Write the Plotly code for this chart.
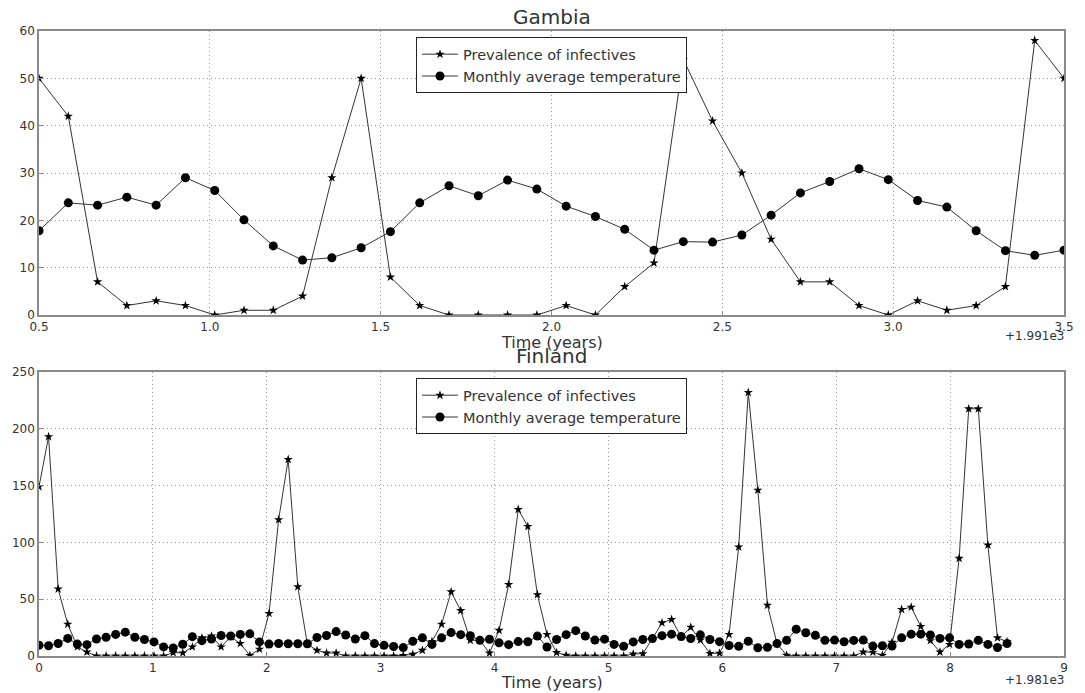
import numpy as np
import plotly.graph_objects as go
from plotly.subplots import make_subplots

# ---------------- data ----------------
gambia_start, gambia_end, gambia_n = 1991.5, 1994.5, 36
gambia_prevalence = [50, 42, 7, 2, 3, 2, 0, 1, 1, 4, 29, 50, 8, 2, 0, 0, 0, 0,
                     2, 0, 6, 11, 54, 41, 30, 16, 7, 7, 2, 0, 3, 1, 2, 6, 58, 50]
gambia_temperature = [17.8, 23.7, 23.2, 24.9, 23.2, 29.0, 26.3, 20.1, 14.6, 11.6, 12.1, 14.2,
                      17.6, 23.7, 27.3, 25.2, 28.5, 26.6, 23.0, 20.8, 18.1, 13.7, 15.5, 15.4,
                      16.9, 21.1, 25.8, 28.2, 30.9, 28.6, 24.2, 22.8, 17.8, 13.6, 12.6, 13.7]

finland_start, finland_end, finland_n = 1981.0, 1989.5, 102
finland_prevalence = [149, 193, 59, 28, 8, 3.5, 0, 0, 0, 0, 0, 0, 0, 0,
                      3, 2.7, 8, 16, 17.5, 8, 17, 11, 0.5, 6, 37.5, 120, 173, 61, 10.5, 5,
                      2.6, 2.6, 0, 0, 0, 0, 0, 0, 0.5, 1.5, 5, 12.8, 28, 56.5, 40, 13.8,
                      13.8, 2.6, 22.6, 63, 129, 114, 54, 19, 3, 0.6, 0, 0, 0, 0, 0, 0,
                      1.8, 2, 15.3, 29.2, 32.2, 17, 25.3, 14, 2.3, 2.5, 19, 96, 232, 146,
                      44.7, 10.9, 0.6, 0, 0, 0, 0, 0, 0, 0, 3.5, 3.3, 0.6, 12, 41, 43,
                      26, 13.5, 3.5, 10.2, 86, 217.6, 217.6, 97.6, 16, 12.6]
finland_temperature = [9.5, 9, 11, 15.5, 10.5, 10, 15, 16.5, 19, 21, 16.5, 14.5, 12.4, 8, 7,
                       10.3, 17, 13.5, 15, 18, 17.6, 19, 19.5, 12.4, 10.5, 11, 10.8, 10.8,
                       10.8, 16.3, 18, 21.5, 18.5, 15, 17.9, 10.9, 9.4, 8.4, 7.4, 12.9, 16,
                       10.2, 16, 20.6, 18.8, 17.9, 13.8, 14.7, 11.6, 10, 12.7, 12.5, 17.5,
                       7.9, 14.5, 18.8, 22.3, 17.6, 14, 14.8, 10.2, 8.5, 12.4, 14.5, 15.3,
                       17.9, 19.2, 17.1, 15.4, 18.6, 14.5, 12.6, 9.2, 8.5, 13, 7.3, 7.6,
                       10.9, 13.8, 23.5, 20.5, 18.2, 13.8, 14, 12.5, 13.7, 14, 8.7, 9, 8.8,
                       16, 19.2, 19.2, 18.5, 15.5, 16, 10.2, 10.6, 13.8, 10.2, 7.5, 10.9]

gambia_offset = 1991
finland_offset = 1981
series_names = ["Prevalence of infectives", "Monthly average temperature"]

gambia_t = np.linspace(gambia_start, gambia_end, gambia_n) - gambia_offset
finland_t = np.linspace(finland_start, finland_end, finland_n) - finland_offset

# ---------------- figure ----------------
FONT = "DejaVu Sans"
TXT = "#333333"
LINE = "#333333"

fig = make_subplots(rows=2, cols=1, vertical_spacing=0.0912)

def add_pair(t, prev, temp, row, legend):
    fig.add_trace(go.Scatter(
        x=t, y=prev, mode="lines+markers", name=series_names[0],
        line=dict(color=LINE, width=1),
        marker=dict(symbol="star", size=7, color="black"),
        legend=legend), row=row, col=1)
    fig.add_trace(go.Scatter(
        x=t, y=temp, mode="lines+markers", name=series_names[1],
        line=dict(color=LINE, width=1),
        marker=dict(symbol="circle", size=9, color="black"),
        legend=legend), row=row, col=1)

add_pair(gambia_t, gambia_prevalence, gambia_temperature, 1, "legend")
add_pair(finland_t, finland_prevalence, finland_temperature, 2, "legend2")

axis_common = dict(showgrid=True, gridcolor="#9a9a9a", griddash="1px,3px", gridwidth=1,
                   showline=True, linecolor="#8a8a8a", linewidth=1.6, mirror=True,
                   ticks="inside", ticklen=4, tickcolor="#8a8a8a",
                   tickfont=dict(family=FONT, size=12, color=TXT), zeroline=False)

fig.update_xaxes(axis_common)
fig.update_yaxes(axis_common)
fig.update_xaxes(range=[0.5, 3.5], dtick=0.5, tick0=0.5, tickformat=".1f", row=1, col=1)
fig.update_yaxes(range=[0, 60], dtick=10, row=1, col=1)
fig.update_xaxes(range=[0, 9], dtick=1, tick0=0, tickformat="d", row=2, col=1)
fig.update_yaxes(range=[0, 250], dtick=50, row=2, col=1)

legend_common = dict(bgcolor="white", bordercolor="#222222", borderwidth=1,
                     font=dict(family=FONT, size=14.5, color=TXT),
                     xanchor="center", yanchor="top", x=0.5, tracegroupgap=0,
                     itemwidth=36)

d1 = fig.layout.yaxis.domain
d2 = fig.layout.yaxis2.domain

fig.update_layout(
    width=1085, height=693,
    margin=dict(l=39, r=11, t=31, b=37),
    plot_bgcolor="white", paper_bgcolor="white",
    showlegend=True,
    legend=dict(legend_common, y=d1[1] - 0.01),
    legend2=dict(legend_common, y=d2[1] - 0.01),
)

annots = [
    dict(text="Gambia", x=0.5, y=d1[1], yanchor="bottom", yshift=0, font=dict(size=20)),
    dict(text="Finland", x=0.5, y=d2[1], yanchor="bottom", yshift=2, font=dict(size=20)),
    dict(text="Time (years)", x=0.5, y=d1[0], yanchor="top", yshift=-16, font=dict(size=16)),
    dict(text="Time (years)", x=0.5, y=d2[0], yanchor="top", yshift=-15, font=dict(size=16)),
    dict(text="+1.991e3", x=1.0, xanchor="right", y=d1[0], yanchor="top", yshift=-12,
         xshift=2, font=dict(size=12)),
    dict(text="+1.981e3", x=1.0, xanchor="right", y=d2[0], yanchor="top", yshift=-15,
         xshift=2, font=dict(size=12)),
]
for a in annots:
    a.setdefault("xanchor", "center")
    a["font"] = dict(family=FONT, color=TXT, **a["font"])
    fig.add_annotation(xref="paper", yref="paper", showarrow=False, **a)

fig.write_html("out.html", config={"displayModeBar": False},
               post_script="document.body.style.margin='0';document.body.style.overflow='hidden';")
